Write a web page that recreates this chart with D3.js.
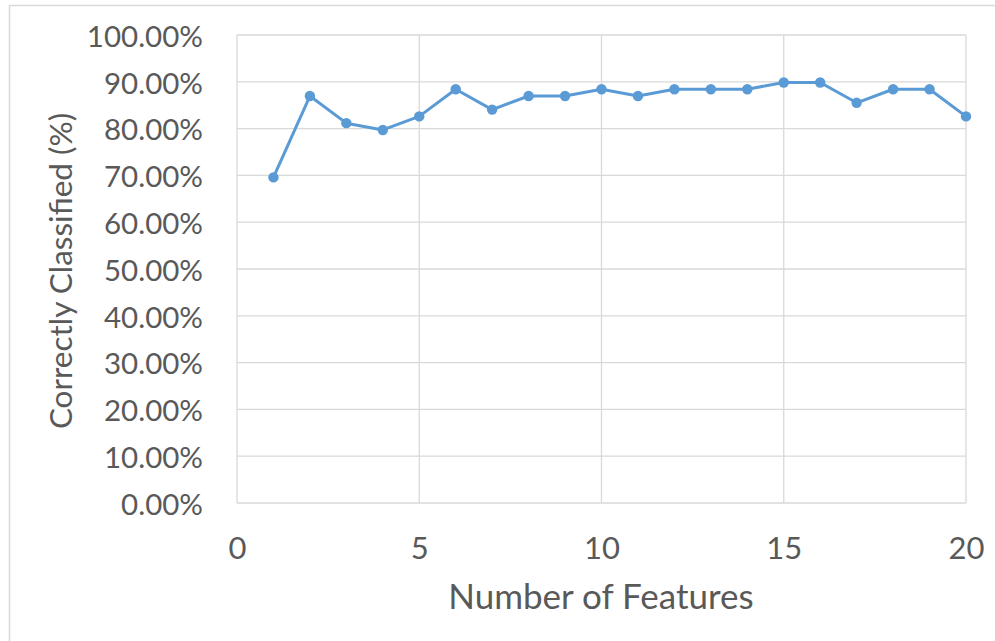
<!DOCTYPE html>
<html>
<head>
<meta charset="utf-8">
<script src="https://cdn.jsdelivr.net/npm/d3@7"></script>
<style>
  body { margin: 0; background: #fff; }
  text { font-family: Lato, "Open Sans", sans-serif; fill: #595959; }
</style>
</head>
<body>
<svg id="chart"></svg>
<script>
var svg_width = 995, svg_height = 641;
var margin = { top: 35, right: 29, bottom: 138, left: 237 };
var width = svg_width - margin.left - margin.right;
var height = svg_height - margin.top - margin.bottom;

// number of features vs share correctly classified
var features = [1, 2, 3, 4, 5, 6, 7, 8, 9, 10, 11, 12, 13, 14, 15, 16, 17, 18, 19, 20];
var accuracy = [69.57, 86.96, 81.16, 79.71, 82.61, 88.41, 84.06, 86.96, 86.96, 88.41,
                86.96, 88.41, 88.41, 88.41, 89.86, 89.86, 85.51, 88.41, 88.41, 82.61];
var xTicks = [0, 5, 10, 15, 20];
var yTicks = [0, 10, 20, 30, 40, 50, 60, 70, 80, 90, 100];

var data = features.map(function (f, i) { return { f: f, v: accuracy[i] }; });

var x = d3.scaleLinear().domain([0, 20]).range([0, width]);
var y = d3.scaleLinear().domain([0, 100]).range([height, 0]);

var svg = d3.select("#chart")
  .attr("width", svg_width)
  .attr("height", svg_height);

// outer chart frame
svg.append("rect")
  .attr("x", 9.5).attr("y", 5.5)
  .attr("width", 1000).attr("height", 700)
  .attr("fill", "none")
  .attr("stroke", "#d9d9d9")
  .attr("stroke-width", 1.5);

var g = svg.append("g")
  .attr("transform", "translate(" + margin.left + "," + margin.top + ")");

// horizontal gridlines
g.append("g")
  .selectAll("line")
  .data(yTicks)
  .enter().append("line")
  .attr("x1", 0).attr("x2", width)
  .attr("y1", function (d) { return y(d); })
  .attr("y2", function (d) { return y(d); })
  .attr("stroke", "#d9d9d9")
  .attr("stroke-width", 1.3);

// vertical gridlines
g.append("g")
  .selectAll("line")
  .data(xTicks)
  .enter().append("line")
  .attr("x1", function (d) { return x(d); })
  .attr("x2", function (d) { return x(d); })
  .attr("y1", 0).attr("y2", height)
  .attr("stroke", "#d9d9d9")
  .attr("stroke-width", 1.3);

var yAxis = g.append("g")
  .call(d3.axisLeft(y).tickValues(yTicks).tickSize(0).tickPadding(34)
    .tickFormat(function (d) { return d.toFixed(2) + "%"; }));
yAxis.select(".domain").remove();
yAxis.selectAll("text").style("font-size", "29.5px").attr("dy", "0.38em");

var xAxis = g.append("g")
  .attr("transform", "translate(0," + height + ")")
  .call(d3.axisBottom(x).tickValues(xTicks).tickSize(0).tickPadding(34));
xAxis.select(".domain").remove();
xAxis.selectAll("text").style("font-size", "31px").attr("y", 45).attr("dy", "0.36em");

var line = d3.line()
  .x(function (d) { return x(d.f); })
  .y(function (d) { return y(d.v); });

g.append("path")
  .datum(data)
  .attr("fill", "none")
  .attr("stroke", "#5b9bd5")
  .attr("stroke-width", 3)
  .attr("stroke-linejoin", "round")
  .attr("d", line);

g.append("g")
  .selectAll("circle")
  .data(data)
  .enter().append("circle")
  .attr("cx", function (d) { return x(d.f); })
  .attr("cy", function (d) { return y(d.v); })
  .attr("r", 5.2)
  .attr("fill", "#5b9bd5");

// axis titles
svg.append("text")
  .attr("x", 601)
  .attr("y", 609)
  .attr("text-anchor", "middle")
  .style("font-size", "35px")
  .text("Number of Features");

svg.append("text")
  .attr("transform", "translate(72,271) rotate(-90)")
  .attr("text-anchor", "middle")
  .style("font-size", "31.5px")
  .text("Correctly Classified (%)");
</script>
</body>
</html>
